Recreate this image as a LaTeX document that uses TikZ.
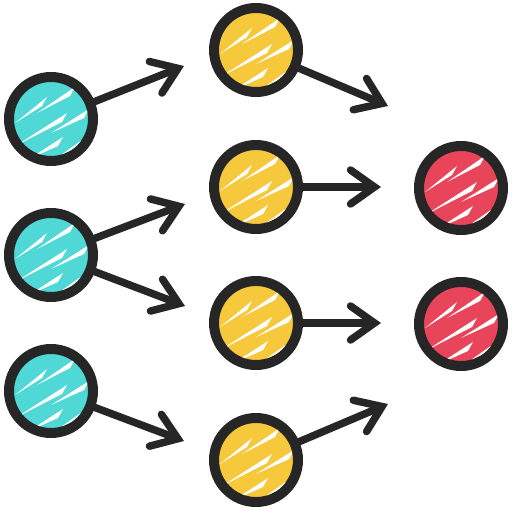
\documentclass[tikz,border=0pt]{standalone}
\usetikzlibrary{arrows.meta,calc}
\definecolor{ink}{HTML}{262626}
\definecolor{tealc}{HTML}{4FD8D5}
\definecolor{yellowc}{HTML}{F6C93C}
\definecolor{redc}{HTML}{E8455B}
\newcommand\myhatches[1]{%
  \begin{scope}[shift={(#1)}]
    \clip (0,0) circle (18.5pt);
    \foreach \x/\y/\u/\v in {-36/4/-4/-22, -14/-6/24/-32, -34/26/16/-6, 0/14/38/-10, -22/40/12/18, 10/36/38/16}
      \fill[white] (\x,\y) -- (\u,\v) -- ($(\u,\v)+(-5,9)$) -- cycle;
  \end{scope}}
\begin{document}
\begin{tikzpicture}[x=0.5pt,y=-0.5pt,
  dot/.style={circle, draw=ink, line width=5pt, minimum size=42pt, inner sep=0pt},
  link/.style={draw=ink, line width=3.75pt, line cap=round, -{Straight Barb[length=12pt,width=17pt,line cap=round]}}]
\useasboundingbox (0,0) rectangle (512,512);
% left column
\node[dot,fill=tealc] (a1) at (51,119) {};
\node[dot,fill=tealc] (a2) at (51,255) {};
\node[dot,fill=tealc] (a3) at (51,391) {};
% middle column
\node[dot,fill=yellowc] (b1) at (256,50) {};
\node[dot,fill=yellowc] (b2) at (256,187) {};
\node[dot,fill=yellowc] (b3) at (256,323) {};
\node[dot,fill=yellowc] (b4) at (256,460) {};
% right column
\node[dot,fill=redc] (c1) at (461,188) {};
\node[dot,fill=redc] (c2) at (461,324) {};
% hatches
\foreach \n in {a1,a2,a3,b1,b2,b3,b4,c1,c2} {\myhatches{\n}}
% arrow tips
\coordinate (t1) at (184,66);
\coordinate (t2) at (185,204);
\coordinate (t3) at (185,306);
\coordinate (t4) at (184,441);
\coordinate (t5) at (388,106);
\coordinate (t6) at (381,187);
\coordinate (t7) at (381,323);
\coordinate (t8) at (388,404);
\draw[link] (a1) -- (t1);
\draw[link] (a2) -- (t2);
\draw[link] (a2) -- (t3);
\draw[link] (a3) -- (t4);
\draw[link] (b1) -- (t5);
\draw[link] (b2) -- (t6);
\draw[link] (b3) -- (t7);
\draw[link] (b4) -- (t8);
\end{tikzpicture}
\end{document}
